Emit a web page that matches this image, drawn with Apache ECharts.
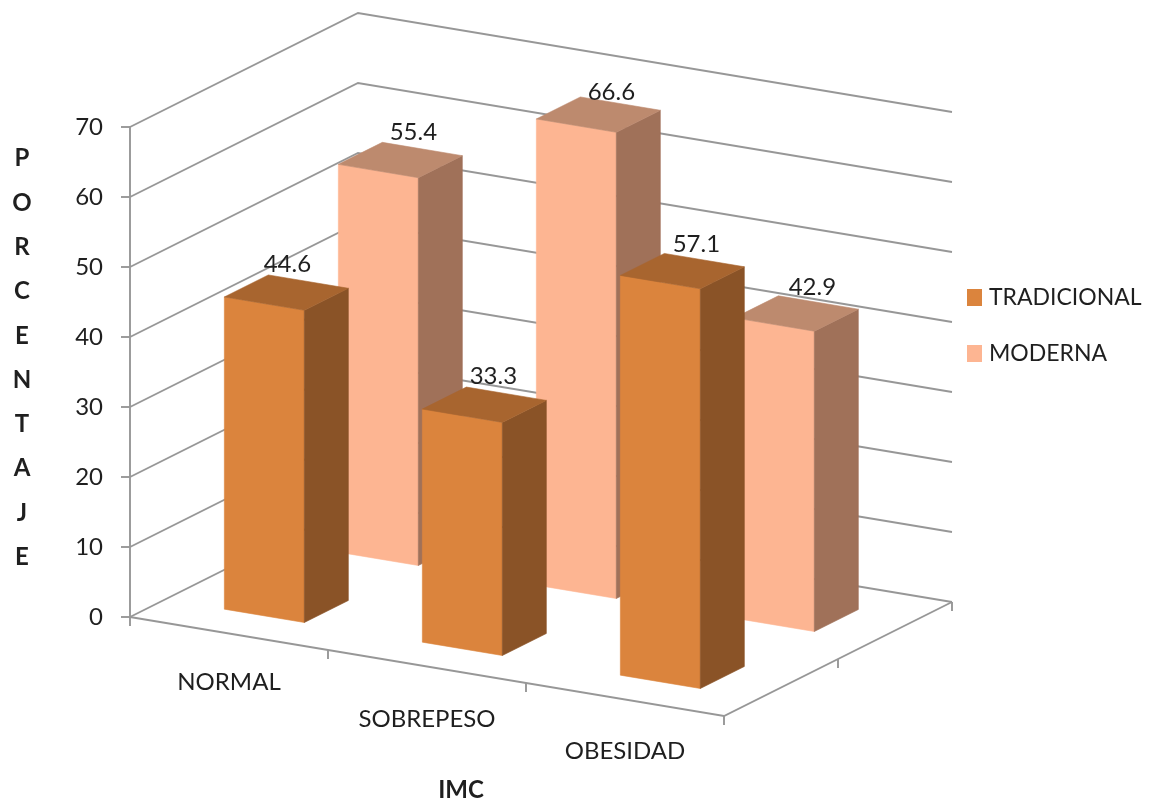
<!DOCTYPE html>
<html>
<head>
<meta charset="utf-8">
<style>html,body{margin:0;padding:0;background:#fff}#c{width:1155px;height:804px}</style>
<script src="https://cdn.jsdelivr.net/npm/echarts@6/dist/echarts.min.js"></script>
</head>
<body>
<div id="c"></div>
<script>
const categories = ['NORMAL', 'SOBREPESO', 'OBESIDAD'];
const tradicional = [44.6, 33.3, 57.1];
const moderna = [55.4, 66.6, 42.9];
const yTicks = [0, 10, 20, 30, 40, 50, 60, 70];
const yAxisTitle = 'PORCENTAJE';
const xAxisTitle = 'IMC';

const FONT = 'Lato';
const TEXT = '#1f1f1f';
const LINE = '#979797';
const LW = 1.9;
const DEPTH_X = 228, DEPTH_Y = 114, SHEAR = 99 / 594;
const BAR_HALF = 0.202, ROW_DEPTH = 0.193;

function project(api, cat, uOff, d, v) {
  const c = api.coord([cat, v]);
  const bw = api.size([1, 0])[0];
  const left = c[0] - (cat + 0.5) * bw;
  const fx = c[0] + uOff * bw;
  return [fx + d * DEPTH_X, c[1] + (fx - left) * SHEAR - d * DEPTH_Y];
}
function poly(points, fill) {
  return { type: 'polygon', shape: { points }, style: { fill, stroke: fill, lineWidth: 0.6 } };
}
function line(points) {
  return { type: 'polyline', shape: { points }, style: { fill: null, stroke: LINE, lineWidth: LW } };
}

function barRenderer(d0, front, side, top, labelShift) {
  return function (params, api) {
    const i = api.value(0), v = api.value(1);
    const u0 = -BAR_HALF, u1 = BAR_HALF, d1 = d0 + ROW_DEPTH;
    const P = (u, d, val) => project(api, i, u, d, val);
    const lab = P(0, d0 + ROW_DEPTH / 2, v);
    return {
      type: 'group',
      children: [
        poly([P(u0, d0, 0), P(u1, d0, 0), P(u1, d0, v), P(u0, d0, v)], front),
        poly([P(u1, d0, 0), P(u1, d1, 0), P(u1, d1, v), P(u1, d0, v)], side),
        poly([P(u0, d0, v), P(u1, d0, v), P(u1, d1, v), P(u0, d1, v)], top),
        { type: 'text', x: lab[0] + labelShift[i][0], y: lab[1] + labelShift[i][1],
          style: { text: v.toFixed(1), font: '24px ' + FONT, fill: TEXT, align: 'center', verticalAlign: 'middle' } }
      ]
    };
  };
}

function wallRenderer(params, api) {
  const v = api.value(0);
  const n = categories.length;
  const a = project(api, 0, -0.5, 0, v);
  const b = project(api, 0, -0.5, 1, v);
  const c = project(api, n - 1, 0.5, 1, v);
  const children = [line([a, b, c])];
  if (v === 0) {
    const fr = project(api, n - 1, 0.5, 0, 0);
    children.push(line([a, fr, c]));
    const tick = p => line([p, [p[0], p[1] + 9]]);
    children.push(tick(a));
    for (let i = 0; i < n; i++) children.push(tick(project(api, i, 0.5, 0, 0)));
    children.push(tick(project(api, n - 1, 0.5, 0.5, 0)));
    children.push(tick(c));
  }
  return { type: 'group', children };
}

const chart = echarts.init(document.getElementById('c'), null, { renderer: 'canvas' });
chart.setOption({
  backgroundColor: '#ffffff',
  animation: false,
  textStyle: { fontFamily: FONT },
  grid: { left: 130, right: 431, top: 127, bottom: 187, containLabel: false, outerBoundsMode: 'none' },
  legend: {
    orient: 'vertical', left: 962, top: 281,
    itemWidth: 15, itemHeight: 17, itemGap: 33, selectedMode: false,
    icon: 'rect',
    data: ['TRADICIONAL', 'MODERNA'],
    textStyle: { fontFamily: FONT, fontSize: 23, color: TEXT, padding: [0, 0, 0, 2] }
  },
  graphic: [{
    type: 'text', x: 22, y: 358, silent: true,
    style: {
      text: yAxisTitle.split('').join('\n'),
      font: 'bold 24px ' + FONT, lineHeight: 44.3, fill: TEXT, align: 'center', verticalAlign: 'middle'
    }
  }],
  xAxis: {
    type: 'category', data: categories,
    axisLine: { show: false }, axisTick: { show: false }, splitLine: { show: false },
    name: xAxisTitle, nameLocation: 'middle', nameGap: 161,
    nameTextStyle: { fontFamily: FONT, fontSize: 24, fontWeight: 'bold', color: TEXT, padding: [0, 0, 0, 68] },
    axisLabel: {
      interval: 0, margin: 53, fontFamily: FONT, fontSize: 24, color: TEXT,
      formatter: (value, index) => '{c' + index + '|' + value + '}',
      rich: {
        c0: { fontFamily: FONT, fontSize: 24, color: TEXT },
        c1: { fontFamily: FONT, fontSize: 24, color: TEXT, padding: [37, 0, 0, 0] },
        c2: { fontFamily: FONT, fontSize: 24, color: TEXT, padding: [69, 0, 0, 0] }
      }
    }
  },
  yAxis: {
    type: 'value', min: 0, max: 70, interval: 10,
    axisLine: { show: true, lineStyle: { color: LINE, width: LW } },
    axisTick: { show: true, length: 9, lineStyle: { color: LINE, width: LW } },
    splitLine: { show: false },
    axisLabel: { margin: 27, fontFamily: FONT, fontSize: 24, color: TEXT }
  },
  series: [
    { type: 'custom', silent: true, z: 1, data: yTicks.map(v => [v]), encode: { y: 0 }, renderItem: wallRenderer },
    { type: 'custom', name: 'MODERNA', z: 2, itemStyle: { color: '#FDB592' }, silent: true,
      data: moderna.map((v, i) => [i, v]), encode: { x: 0, y: 1 },
      renderItem: barRenderer(0.655, '#FDB592', '#A07159', '#BD8A6E', [[13, -28], [13, -22], [16, -26]]) },
    { type: 'custom', name: 'TRADICIONAL', z: 3, itemStyle: { color: '#DB843D' }, silent: true,
      data: tradicional.map((v, i) => [i, v]), encode: { x: 0, y: 1 },
      renderItem: barRenderer(0.155, '#DB843D', '#8A5327', '#A8652F', [[1, -28], [9, -28], [14, -27]]) }
  ]
});
</script>
</body>
</html>
